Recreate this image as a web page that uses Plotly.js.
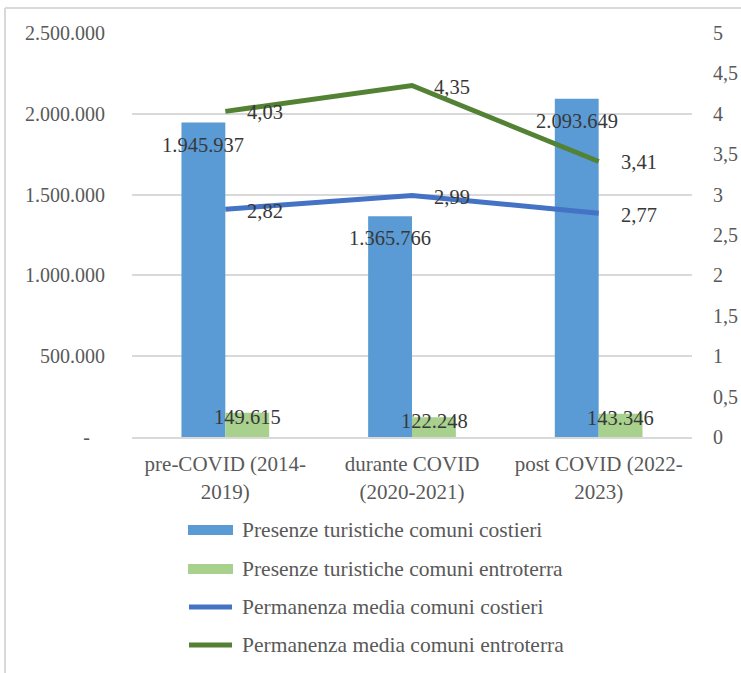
<!DOCTYPE html>
<html>
<head>
<meta charset="utf-8">
<script src="https://cdn.plot.ly/plotly-3.0.1.min.js"></script>
<style>
  html, body { margin: 0; padding: 0; background: #ffffff; }
  #chart { width: 741px; height: 673px; }
</style>
</head>
<body>
<div id="chart"></div>
<script>
// Periodi di riferimento
const periodi = ['pre-COVID (2014-<br>2019)', 'durante COVID<br>(2020-2021)', 'post COVID (2022-<br>2023)'];

// Presenze turistiche (asse sinistro)
const presenzeCostieri = [1945937, 1365766, 2093649];
const presenzeEntroterra = [149615, 122248, 143346];

// Permanenza media in giorni (asse destro)
const permanenzaCostieri = [2.82, 2.99, 2.77];
const permanenzaEntroterra = [4.03, 4.35, 3.41];

const nomiSerie = [
  'Presenze turistiche comuni costieri',
  'Presenze turistiche comuni entroterra',
  'Permanenza media comuni costieri',
  'Permanenza media comuni entroterra'
];

const tickPresenze = [0, 500000, 1000000, 1500000, 2000000, 2500000];
const tickPresenzeTesto = ['-\u00a0\u00a0\u00a0', '500.000', '1.000.000', '1.500.000', '2.000.000', '2.500.000'];
const tickPermanenza = [0, 0.5, 1, 1.5, 2, 2.5, 3, 3.5, 4, 4.5, 5];
const tickPermanenzaTesto = ['0', '0,5', '1', '1,5', '2', '2,5', '3', '3,5', '4', '4,5', '5'];

const colori = ['#5B9BD5', '#A9D18E', '#4472C4', '#548235'];

// formato italiano: separatore delle migliaia "." e decimali con ","
function migliaia(v) {
  return String(Math.round(v)).replace(/\B(?=(\d{3})+(?!\d))/g, '.');
}
function decimali(v) {
  return v.toFixed(2).replace('.', ',');
}

const FONT = '"Liberation Serif", "Times New Roman", serif';
const W = 741, H = 673;
const M = { l: 132, r: 49, t: 33, b: 236 };
const PW = W - M.l - M.r, PH = H - M.t - M.b;
const px = x => (x - M.l) / PW;
const py = y => (H - M.b - y) / PH;

const traces = [
  { type: 'bar', x: periodi, y: presenzeCostieri, name: nomiSerie[0],
    marker: { color: colori[0] }, hoverinfo: 'skip' },
  { type: 'bar', x: periodi, y: presenzeEntroterra, name: nomiSerie[1],
    marker: { color: colori[1] }, hoverinfo: 'skip' },
  { type: 'scatter', mode: 'lines', x: periodi, y: permanenzaCostieri, name: nomiSerie[2],
    yaxis: 'y2', line: { color: colori[2], width: 5 }, hoverinfo: 'skip' },
  { type: 'scatter', mode: 'lines', x: periodi, y: permanenzaEntroterra, name: nomiSerie[3],
    yaxis: 'y2', line: { color: colori[3], width: 5 }, hoverinfo: 'skip' }
];

const labelFont = { family: FONT, size: 20.5, color: '#383838' };
const annotations = [];

periodi.forEach((p, i) => {
  annotations.push({ x: p, y: presenzeCostieri[i], xref: 'x', yref: 'y', text: migliaia(presenzeCostieri[i]),
    showarrow: false, xshift: -22, yshift: -22, font: labelFont });
  annotations.push({ x: p, y: presenzeEntroterra[i], xref: 'x', yref: 'y', text: migliaia(presenzeEntroterra[i]),
    showarrow: false, xshift: 22, yshift: -4, font: labelFont });
  annotations.push({ x: p, y: permanenzaCostieri[i], xref: 'x', yref: 'y2', text: decimali(permanenzaCostieri[i]),
    showarrow: false, xanchor: 'left', xshift: 20, yshift: -2, font: labelFont });
  annotations.push({ x: p, y: permanenzaEntroterra[i], xref: 'x', yref: 'y2', text: decimali(permanenzaEntroterra[i]),
    showarrow: false, xanchor: 'left', xshift: 20, yshift: -1, font: labelFont });
});

// Legenda disposta in colonna sotto il grafico
const shapes = [];
const rowsY = [530, 569, 607, 645];
nomiSerie.forEach((nome, i) => {
  const yc = rowsY[i];
  if (i < 2) {
    shapes.push({ type: 'rect', xref: 'paper', yref: 'paper',
      x0: px(188), x1: px(233), y0: py(yc - 5), y1: py(yc + 5),
      fillcolor: colori[i], line: { width: 0 } });
  } else {
    shapes.push({ type: 'line', xref: 'paper', yref: 'paper',
      x0: px(189), x1: px(232), y0: py(yc), y1: py(yc),
      line: { color: colori[i], width: 5 } });
  }
  annotations.push({ xref: 'paper', yref: 'paper', x: px(240), y: py(yc),
    xanchor: 'left', yanchor: 'middle', showarrow: false, text: nome,
    font: { family: FONT, size: 21.5, color: '#595959' } });
});

// cornice dell'area grafico
shapes.push({ type: 'line', xref: 'paper', yref: 'paper', x0: px(5), x1: px(5), y0: py(8), y1: py(H + 5),
  line: { color: '#d9d9d9', width: 2 } });
shapes.push({ type: 'line', xref: 'paper', yref: 'paper', x0: px(5), x1: px(W + 5), y0: py(8), y1: py(8),
  line: { color: '#d9d9d9', width: 2 } });

const layout = {
  width: W, height: H,
  margin: M,
  paper_bgcolor: '#ffffff',
  plot_bgcolor: '#ffffff',
  showlegend: false,
  barmode: 'group',
  bargap: 0.53,
  bargroupgap: 0,
  font: { family: FONT, size: 19, color: '#595959' },
  xaxis: {
    type: 'category',
    showgrid: false, zeroline: false,
    showline: true, linecolor: '#d9d9d9', linewidth: 2,
    ticks: 'outside', ticklen: 7, tickcolor: 'rgba(0,0,0,0)',
    tickfont: { family: FONT, size: 21, color: '#595959' },
    fixedrange: true
  },
  yaxis: {
    range: [0, 2500000],
    tickmode: 'array', tickvals: tickPresenze, ticktext: tickPresenzeTesto,
    showgrid: true, gridcolor: '#d9d9d9', gridwidth: 2,
    zeroline: false, showline: false,
    ticks: 'outside', ticklen: 22, tickcolor: 'rgba(0,0,0,0)',
    tickfont: { family: FONT, size: 20, color: '#595959' },
    fixedrange: true
  },
  yaxis2: {
    overlaying: 'y', side: 'right',
    range: [0, 5],
    tickmode: 'array', tickvals: tickPermanenza, ticktext: tickPermanenzaTesto,
    showgrid: false, zeroline: false, showline: false,
    ticks: 'outside', ticklen: 16, tickcolor: 'rgba(0,0,0,0)',
    tickfont: { family: FONT, size: 20, color: '#595959' },
    fixedrange: true
  },
  shapes: shapes,
  annotations: annotations
};

Plotly.newPlot('chart', traces, layout, { displayModeBar: false, staticPlot: true });
</script>
</body>
</html>
